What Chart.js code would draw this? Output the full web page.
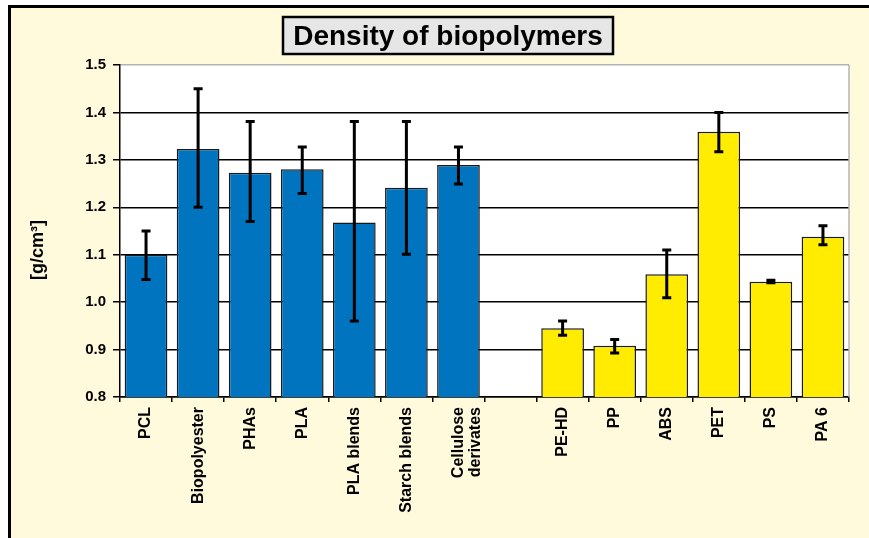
<!DOCTYPE html>
<html>
<head>
<meta charset="utf-8">
<title>Density of biopolymers</title>
<script src="https://cdn.jsdelivr.net/npm/chart.js@4.4.1/dist/chart.umd.min.js"></script>
<style>
    html, body { margin: 0; padding: 0; background: #fff; }
    #wrap { width: 869px; height: 538px; }
</style>
</head>
<body>
<div id="wrap"><canvas id="densityChart" width="869" height="538"></canvas></div>
<script>
// Chart text
const chartTitle = "Density of biopolymers";
const yAxisTitle = "[g/cm\u00B3]";

// Biopolymers (blue)
const bioNames = ["PCL", "Biopolyester", "PHAs", "PLA", "PLA blends", "Starch blends", ["Cellulose", "derivates"]];
const bioDensity = [1.10, 1.323, 1.273, 1.28, 1.168, 1.241, 1.289];
const bioLow = [1.048, 1.20, 1.17, 1.229, 0.96, 1.101, 1.249];
const bioHigh = [1.15, 1.45, 1.381, 1.327, 1.381, 1.381, 1.327];

// Conventional polymers (yellow)
const convNames = ["PE-HD", "PP", "ABS", "PET", "PS", "PA 6"];
const convDensity = [0.945, 0.908, 1.059, 1.359, 1.043, 1.138];
const convLow = [0.930, 0.893, 1.009, 1.317, 1.041, 1.121];
const convHigh = [0.960, 0.921, 1.110, 1.40, 1.046, 1.161];

// Y axis range
const yMin = 0.8;
const yMax = 1.5;
const yStep = 0.1;

// One empty slot between the two groups
const labels = [...bioNames, "", ...convNames];
const pad = n => new Array(n).fill(null);
const bioSeries = [...bioDensity, ...pad(1 + convNames.length)];
const convSeries = [...pad(bioNames.length + 1), ...convDensity];

// Background, frame, title box and y axis title
const framePlugin = {
    id: "frame",
    beforeDraw(chart) {
        const ctx = chart.ctx;
        const area = chart.chartArea;
        ctx.save();
        ctx.fillStyle = "#fff";
        ctx.fillRect(0, 0, chart.width, chart.height);
        ctx.fillStyle = "#fffadc";
        ctx.fillRect(9, 6, chart.width, chart.height);
        ctx.strokeStyle = "#000";
        ctx.lineWidth = 3;
        ctx.strokeRect(9.5, 6.5, chart.width + 10, chart.height + 10);

        ctx.fillStyle = "#fff";
        ctx.fillRect(area.left, area.top, area.right - area.left, area.bottom - area.top);

        // title box
        ctx.font = "bold 28px 'Liberation Sans', Arial, sans-serif";
        const tw = ctx.measureText(chartTitle).width;
        const cx = 448;
        const bw = Math.max(tw + 18, 330);
        ctx.fillStyle = "#e6e6e6";
        ctx.fillRect(cx - bw / 2, 17, bw, 37);
        ctx.lineWidth = 2.5;
        ctx.strokeRect(cx - bw / 2, 17, bw, 37);
        ctx.fillStyle = "#000";
        ctx.textAlign = "center";
        ctx.textBaseline = "middle";
        ctx.fillText(chartTitle, cx, 37);

        // y axis title
        ctx.translate(38, 250);
        ctx.rotate(-Math.PI / 2);
        ctx.font = "bold 18px 'Liberation Sans', Arial, sans-serif";
        ctx.fillText(yAxisTitle, 0, 0);
        ctx.restore();
    },
    afterDatasetsDraw(chart) {
        const ctx = chart.ctx;
        const area = chart.chartArea;
        ctx.save();
        ctx.strokeStyle = "#b4b4b4";
        ctx.lineWidth = 1.5;
        ctx.beginPath();
        ctx.moveTo(area.right, area.top);
        ctx.lineTo(area.right, area.bottom);
        ctx.stroke();
        ctx.restore();
    }
};

// Error bars drawn from the low/high arrays through the y scale
const errorBarPlugin = {
    id: "errorBars",
    afterDatasetsDraw(chart) {
        const ctx = chart.ctx;
        const yScale = chart.scales.y;
        ctx.save();
        ctx.strokeStyle = "#000";
        ctx.lineWidth = 3;
        chart.data.datasets.forEach((ds, i) => {
            const meta = chart.getDatasetMeta(i);
            meta.data.forEach((bar, j) => {
                if (ds.data[j] == null) return;
                const lo = yScale.getPixelForValue(ds.errLow[j]);
                const hi = yScale.getPixelForValue(ds.errHigh[j]);
                const x = bar.x;
                ctx.beginPath();
                ctx.moveTo(x, lo);
                ctx.lineTo(x, hi);
                ctx.moveTo(x - 4.5, lo);
                ctx.lineTo(x + 4.5, lo);
                ctx.moveTo(x - 4.5, hi);
                ctx.lineTo(x + 4.5, hi);
                ctx.stroke();
            });
        });
        ctx.restore();
    }
};

const ctx = document.getElementById("densityChart").getContext("2d");

new Chart(ctx, {
    type: "bar",
    data: {
        labels: labels,
        datasets: [{
            label: "Biopolymers",
            data: bioSeries,
            errLow: [...bioLow, ...pad(1 + convNames.length)],
            errHigh: [...bioHigh, ...pad(1 + convNames.length)],
            backgroundColor: "#0074be",
            borderColor: "#1a1a1a",
            borderWidth: 1.5
        }, {
            label: "Conventional polymers",
            data: convSeries,
            errLow: [...pad(bioNames.length + 1), ...convLow],
            errHigh: [...pad(bioNames.length + 1), ...convHigh],
            backgroundColor: "#ffec00",
            borderColor: "#1a1a1a",
            borderWidth: 1.5
        }]
    },
    options: {
        responsive: false,
        animation: false,
        layout: {
            padding: { top: 65, right: 20, bottom: 0, left: 0 }
        },
        datasets: {
            bar: {
                grouped: false,
                categoryPercentage: 1,
                barPercentage: 0.82
            }
        },
        scales: {
            x: {
                afterFit: scale => { scale.height = 141; },
                grid: {
                    drawOnChartArea: false,
                    drawTicks: true,
                    tickLength: 5,
                    color: "#000",
                    lineWidth: 1.5
                },
                border: { color: "#000", width: 1.5 },
                ticks: {
                    autoSkip: false,
                    minRotation: 90,
                    maxRotation: 90,
                    padding: 5,
                    color: "#000",
                    font: { family: "'Liberation Sans', Arial, sans-serif", size: 16, weight: "bold", lineHeight: 1.05 }
                }
            },
            y: {
                min: yMin,
                max: yMax,
                afterFit: scale => { scale.width = 120; },
                grid: {
                    color: c => (c.tick && c.tick.value >= yMax - 1e-9) ? "#b4b4b4" : "#000",
                    tickColor: "#000",
                    lineWidth: 1.5,
                    tickLength: 7
                },
                border: { color: "#000", width: 1.5 },
                ticks: {
                    stepSize: yStep,
                    padding: 7,
                    color: "#000",
                    font: { family: "'Liberation Sans', Arial, sans-serif", size: 15, weight: "bold" },
                    callback: v => Number(v).toFixed(1)
                }
            }
        },
        plugins: {
            legend: { display: false },
            title: { display: false },
            tooltip: { enabled: false }
        }
    },
    plugins: [framePlugin, errorBarPlugin]
});
</script>
</body>
</html>
